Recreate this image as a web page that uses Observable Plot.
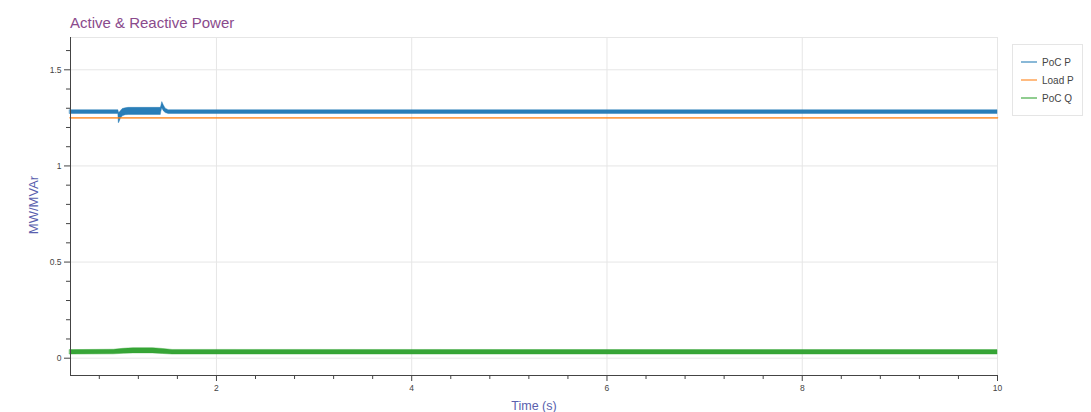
<!DOCTYPE html>
<html><head><meta charset="utf-8">
<script src="https://cdn.jsdelivr.net/npm/d3@7"></script>
<script src="https://cdn.jsdelivr.net/npm/@observablehq/plot@0.6"></script>
<style>
html,body{margin:0;padding:0;background:#fff;}
#wrap{position:relative;width:1091px;height:412px;overflow:hidden;font-family:"Liberation Sans",Arial,Helvetica,sans-serif;}
#wrap svg{position:absolute;left:0;top:0;}
</style></head><body><div id="wrap"></div>
<script>
// ---- data ----
// PoC P: dense noisy signal, drawn as its min/max envelope
const pocP_t  = [0.5,   0.995, 1.0,   1.005, 1.02,  1.04,  1.07,  1.10,  1.43,  1.435, 1.445, 1.46,  1.48,  1.51,  10];
const pocP_lo = [1.270, 1.270, 1.222, 1.225, 1.245, 1.258, 1.264, 1.265, 1.265, 1.280, 1.300, 1.285, 1.275, 1.270, 1.270];
const pocP_hi = [1.290, 1.290, 1.280, 1.275, 1.285, 1.296, 1.300, 1.302, 1.302, 1.310, 1.332, 1.315, 1.298, 1.290, 1.290];
// Load P: flat
const loadP_t = [0.5, 10];
const loadP_v = [1.25, 1.25];
// PoC Q: dense noisy signal envelope
const pocQ_t  = [0.5,   0.95,  1.05,  1.15,  1.35,  1.45,  1.55,  10];
const pocQ_lo = [0.019, 0.020, 0.023, 0.025, 0.025, 0.022, 0.019, 0.019];
const pocQ_hi = [0.042, 0.044, 0.049, 0.052, 0.052, 0.048, 0.043, 0.042];

const seriesNames  = ["PoC P", "Load P", "PoC Q"];
const seriesColors = ["#1f77b4", "#ff7f0e", "#2ca02c"];

const xMajor = [2, 4, 6, 8, 10];
const xMinor = [0.8,1.2,1.6,2.4,2.8,3.2,3.6,4.4,4.8,5.2,5.6,6.4,6.8,7.2,7.6,8.4,8.8,9.2,9.6];
const yMajor = [0, 0.5, 1, 1.5];
const yMinor = [0.1,0.2,0.3,0.4,0.6,0.7,0.8,0.9,1.1,1.2,1.3,1.4,1.6];
const xDomain = [0.505, 10];
const yDomain = [-0.09, 1.668];

const titleText = "Active & Reactive Power";
const xLabel = "Time (s)";
const yLabel = "MW/MVAr";

// ---- build tables ----
const pocP = pocP_t.map((t, i) => ({t, lo: pocP_lo[i], hi: pocP_hi[i]}));
const loadP = loadP_t.map((t, i) => ({t, v: loadP_v[i]}));
const pocQ = pocQ_t.map((t, i) => ({t, lo: pocQ_lo[i], hi: pocQ_hi[i]}));

const axisColor = "#444";
const gridColor = "#e6e6e6";

const chart = Plot.plot({
  width: 1091, height: 412,
  marginLeft: 70, marginRight: 94, marginTop: 37, marginBottom: 37,
  x: {domain: xDomain},
  y: {domain: yDomain},
  style: {fontFamily: '"Liberation Sans", Arial, sans-serif', fontSize: "8.5px", background: "transparent", overflow: "visible"},
  marks: [
    Plot.gridX(xMajor, {stroke: gridColor, strokeOpacity: 1}),
    Plot.gridY(yMajor, {stroke: gridColor, strokeOpacity: 1}),
    Plot.frame({stroke: gridColor}),
    Plot.areaY(pocP, {x: "t", y1: "lo", y2: "hi", fill: seriesColors[0], fillOpacity: 0.95, stroke: seriesColors[0], strokeWidth: 0.5, strokeOpacity: 0.8}),
    Plot.lineY(loadP, {x: "t", y: "v", stroke: seriesColors[1], strokeOpacity: 0.75, strokeWidth: 1.6}),
    Plot.areaY(pocQ, {x: "t", y1: "lo", y2: "hi", fill: seriesColors[2], fillOpacity: 0.95, stroke: seriesColors[2], strokeWidth: 0.5, strokeOpacity: 0.8}),
    Plot.ruleX([xDomain[0]], {stroke: axisColor}),
    Plot.ruleY([yDomain[0]], {stroke: axisColor}),
    Plot.axisX(xMajor, {tickSize: 6, tickPadding: 3, tickFormat: d => String(d), label: null, color: axisColor, fontSize: 8.5}),
    Plot.axisX(xMinor, {tickSize: 4, tickFormat: () => "", label: null, color: axisColor}),
    Plot.axisY(yMajor, {tickSize: 6, tickPadding: 3, tickFormat: d => String(d), label: null, color: axisColor, fontSize: 8.5}),
    Plot.axisY(yMinor, {tickSize: 4, tickFormat: () => "", label: null, color: axisColor})
  ]
});

const wrap = document.getElementById("wrap");
wrap.appendChild(chart);

// ---- overlay: title, axis labels, legend ----
const ns = "http://www.w3.org/2000/svg";
const ov = document.createElementNS(ns, "svg");
ov.setAttribute("width", 1091); ov.setAttribute("height", 412);
ov.setAttribute("font-family", '"Liberation Sans", Arial, sans-serif');
function el(tag, attrs, text) {
  const e = document.createElementNS(ns, tag);
  for (const k in attrs) e.setAttribute(k, attrs[k]);
  if (text != null) e.textContent = text;
  ov.appendChild(e);
  return e;
}
el("text", {x: 70, y: 28, "font-size": 15, fill: "#8a4a8c"}, titleText);
el("text", {x: 0, y: 0, "font-size": 13, fill: "#5a5fae", "text-anchor": "middle", transform: "translate(38,205) rotate(-90)"}, yLabel);
el("text", {x: 534, y: 410, "font-size": 12.5, fill: "#5a5fae", "text-anchor": "middle"}, xLabel);
el("rect", {x: 1012.5, y: 44.5, width: 70, height: 71, fill: "#fff", stroke: "#e5e5e5"});
seriesNames.forEach((name, i) => {
  const y = 62 + i * 18;
  el("line", {x1: 1021, x2: 1037, y1: y, y2: y, stroke: seriesColors[i], "stroke-width": 1.5, "stroke-opacity": 0.7});
  el("text", {x: 1042, y: y + 3.5, "font-size": 10, fill: "#444"}, name);
});
wrap.appendChild(ov);
</script></body></html>
